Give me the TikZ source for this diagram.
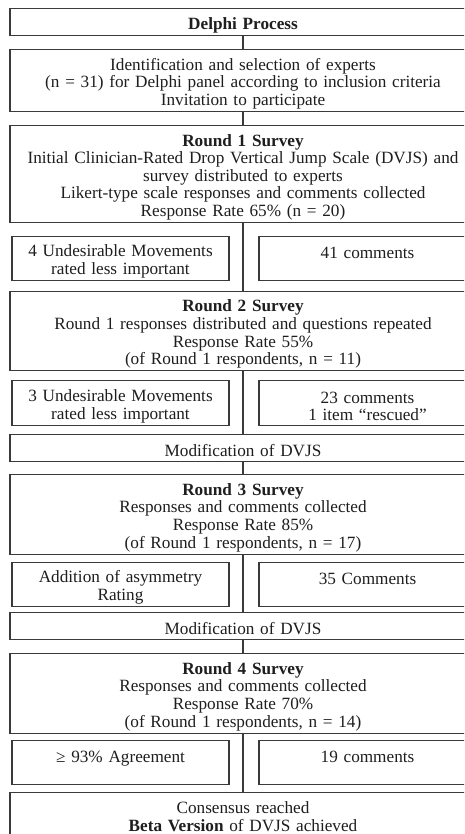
\documentclass[tikz,border=0pt]{standalone}
\usepackage{fontspec}
\setmainfont{Liberation Serif}
\definecolor{linecol}{HTML}{3A3A3A}
\definecolor{txtcol}{HTML}{1E1E1E}
\begin{document}
\begin{tikzpicture}[x=1pt,y=-1pt,
  font=\fontsize{17.2}{17.6}\selectfont,
  lowered/.style={execute at begin node={\rule{0pt}{18pt}}},
  mainbox/.style={lowered, draw=linecol, line width=1.2pt, text=txtcol, text width=450pt, inner xsep=8pt, inner ysep=0pt, align=center, anchor=north},
  sidebox/.style={lowered, draw=linecol, line width=1.2pt, text=txtcol, text width=205pt, inner xsep=6pt, inner ysep=0pt, align=center, anchor=north},
  conn/.style={draw=linecol, line width=1.2pt}]
\useasboundingbox (0,0) rectangle (464,834);
\clip (0,0) rectangle (464,834);
\fill[white] (0,0) rectangle (464,834);

\node[mainbox, minimum height=27pt] (delphi) at (243,8) {\textbf{Delphi Process}};
\node[mainbox, minimum height=62pt] (ident) at (243,49) {Identification and selection of experts\\(n = 31) for Delphi panel according to inclusion criteria\\Invitation to participate};
\node[mainbox, minimum height=97pt] (r1) at (243,125) {\textbf{Round 1 Survey}\\Initial Clinician-Rated Drop Vertical Jump Scale (DVJS) and\\survey distributed to experts\\Likert-type scale responses and comments collected\\Response Rate 65\% (n = 20)};
\node[sidebox, minimum height=44pt] (s1l) at (120.5,236) {4 Undesirable Movements\\rated less important};
\node[sidebox, minimum height=44pt] (s1r) at (367.5,236) {41 comments\\\mbox{}};
\node[mainbox, minimum height=79pt] (r2) at (243,291) {\textbf{Round 2 Survey}\\Round 1 responses distributed and questions repeated\\Response Rate 55\%\\(of Round 1 respondents, n = 11)};
\node[sidebox, minimum height=45pt] (s2l) at (120.5,380) {3 Undesirable Movements\\rated less important};
\node[sidebox, minimum height=45pt] (s2r) at (367.5,380) {23 comments\\1 item “rescued”};
\node[mainbox, minimum height=27pt] (m1) at (243,434) {Modification of DVJS};
\node[mainbox, minimum height=80pt] (r3) at (243,474) {\textbf{Round 3 Survey}\\Responses and comments collected\\Response Rate 85\%\\(of Round 1 respondents, n = 17)};
\node[sidebox, minimum height=44pt] (s3l) at (120.5,562) {Addition of asymmetry\\Rating};
\node[sidebox, minimum height=44pt] (s3r) at (367.5,562) {35 Comments\\\mbox{}};
\node[mainbox, minimum height=27pt] (m2) at (243,612) {Modification of DVJS};
\node[mainbox, minimum height=80pt] (r4) at (243,653) {\textbf{Round 4 Survey}\\Responses and comments collected\\Response Rate 70\%\\(of Round 1 respondents, n = 14)};
\node[sidebox, minimum height=44pt] (s4l) at (120.5,740) {≥ 93\% Agreement\\\mbox{}};
\node[sidebox, minimum height=44pt] (s4r) at (367.5,740) {19 comments\\\mbox{}};
\node[mainbox, minimum height=42pt] (cons) at (243,792) {Consensus reached\\\textbf{Beta Version} of DVJS achieved};

\draw[conn] (delphi.south) -- (ident.north);
\draw[conn] (ident.south) -- (r1.north);
\draw[conn] (r1.south) -- (r2.north);
\draw[conn] (r2.south) -- (m1.north);
\draw[conn] (m1.south) -- (r3.north);
\draw[conn] (r3.south) -- (m2.north);
\draw[conn] (m2.south) -- (r4.north);
\draw[conn] (r4.south) -- (cons.north);
\end{tikzpicture}
\end{document}
